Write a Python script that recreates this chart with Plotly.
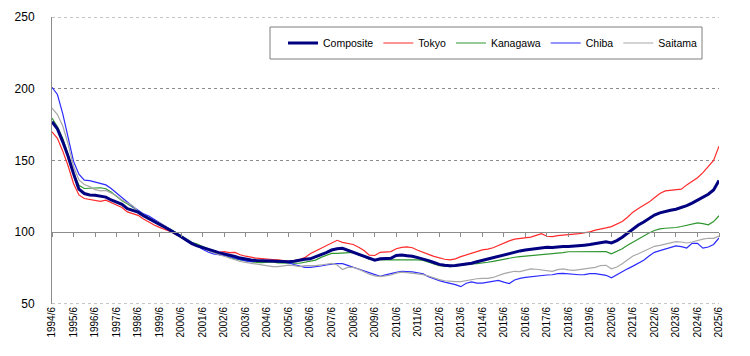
import pandas as pd
import plotly.graph_objects as go

# Quarterly sampling dates, 1994/6 .. 2025/6
dates = pd.date_range("1994-06-01", "2025-06-01", freq="3MS")

tick_dates = pd.date_range("1994-06-01", "2025-06-01", freq="12MS")
tick_labels = [f"{d.year}/{d.month}" for d in tick_dates]
y_ticks = [50, 100, 150, 200, 250]

composite = [
    177, 172, 163, 153, 141, 130, 127, 126, 125.8, 125.3,
    124.5, 122.5, 120.8, 119.5, 116.5, 115.5, 114, 111.5, 109.3, 107.5,
    105.5, 103.5, 101.5, 99.5, 96.9, 94.5, 92, 90.5, 89.5, 88.2,
    87, 85.8, 85, 84.3, 83.2, 82, 81.2, 80.7, 80.4, 80.2,
    80, 79.8, 79.6, 79.5, 79.5, 79.8, 80.6, 81.2, 81.5, 82.8,
    84.1, 85.8, 87.6, 88.5, 88.8, 87.5, 86, 84.8, 83.5, 82.2,
    80.5, 81.5, 81.8, 81.8, 83.8, 84.1, 83.7, 83.3, 82.3, 81.4,
    80.2, 78.9, 77.6, 77, 76.6, 76.8, 77.2, 77.8, 78.4, 79.4,
    80.4, 81.2, 82.2, 83.4, 84.4, 85.4, 86.4, 87, 87.6, 88.2,
    88.8, 89.5, 89.6, 89.4, 89.9, 90, 90, 90.2, 90.5, 91,
    91.4, 92, 92.8, 93.3, 92.6, 94.2, 96.5, 99.5, 102.5, 105,
    107.2, 109.5, 112, 113.5, 114.6, 115.3, 116, 117, 118.5, 120.3,
    122.2, 124.3, 126.5, 129.5, 136,
]

tokyo = [
    170, 165.5, 156.5, 146.3, 134, 126, 123.5, 123, 122.3, 121.5,
    122.3, 120.5, 118.8, 117.3, 114.2, 113, 111.8, 109.3, 107, 105,
    103.4, 102, 100.5, 98.5, 96.6, 94, 92, 90.7, 89.5, 88.2,
    87, 86, 86.5, 85.8, 86, 84.3, 83.3, 82.5, 81.9, 81.6,
    81.1, 81, 80.7, 80.2, 79.7, 80.3, 81, 82.3, 85, 87,
    88.8, 90.7, 92.5, 94.4, 93, 92.3, 91.5, 89.6, 87.3, 84,
    83.8, 86, 86, 86.5, 88.5, 89.5, 89.8, 89.2, 87.5, 85.8,
    84.6, 83.2, 82.2, 81.2, 80.8, 81.5, 83, 84.2, 85.3, 86.5,
    87.7, 88.3, 89.2, 90.8, 92.5, 94, 95.2, 95.8, 96, 96.6,
    97.8, 99, 97.2, 96.9, 97.6, 98.1, 98.5, 98.7, 99, 99.4,
    100.3, 101.5, 102.5, 103, 103.9, 105.5, 107.5, 110.5, 114, 116.5,
    118.5, 121, 124, 127, 128.8, 129.3, 129.4, 130, 133, 135.5,
    138, 141.5, 145.5, 150, 160,
]

kanagawa = [
    179.5, 173.5, 165.3, 154.3, 141, 132.7, 130.5, 130.6, 130.7, 131,
    130.3, 128, 125, 122, 119.8, 117.5, 115, 112.6, 110.3, 107.8,
    105.4, 104, 102.3, 100, 97.8, 95.4, 93, 91.8, 90.4, 88.5,
    86.8, 85.6, 84.5, 82.3, 81.3, 80.7, 80.2, 79.5, 79, 78.8,
    79.2, 79.3, 78.6, 78.4, 78.4, 78.4, 78.4, 79, 80, 80.6,
    82.5, 84, 85.3, 85.3, 85.5, 86.2, 86, 84.2, 83, 81,
    80.7, 80.7, 80.7, 80.7, 81.2, 81.1, 81, 80.9, 80.7, 80.4,
    79.2, 77.8, 76.7, 76.3, 76, 76.6, 77.2, 77.5, 77.9, 78.2,
    78.5, 79.1, 79.7, 80.5, 81.2, 81.8, 82.6, 83, 83.3, 83.6,
    84, 84.5, 85, 85.3, 85.3, 85.8, 86.4, 86.4, 86.4, 86.6,
    86.9, 86.9, 86.9, 86.5, 85, 86.5, 88.5, 91, 93.2, 95.3,
    97.5, 99.5, 101.2, 102.4, 102.8, 102.8, 103.3, 104, 104.7, 105.5,
    106.5, 106, 105.2, 107.4, 111.5,
]

chiba = [
    201, 196, 182.5, 167, 149.5, 140.5, 136.3, 136, 135, 133.8,
    133, 130.5, 127.3, 123.7, 121, 118, 115.4, 112.8, 111.3, 109,
    106.8, 104.8, 102.5, 100, 97.5, 95, 92.8, 90.4, 88.2, 86.2,
    84.9, 84.3, 83.8, 83.2, 82, 80.8, 80.1, 79.5, 79.8, 80.2,
    80.4, 80.5, 79.8, 79.3, 78.7, 77.5, 76.4, 75.5, 75.5, 75.8,
    76.5, 77.2, 77.9, 78.2, 78.1, 76.8, 75.6, 74.3, 73, 71.8,
    70.5, 69.3, 70.3, 71.4, 72, 72.8, 72.8, 72.4, 71.8, 71,
    69, 67.5, 66.3, 65.2, 64.6, 63.5, 62.1, 64.5, 65.4, 64.6,
    64.6, 65.3, 65.6, 66.4, 65.2, 64.2, 66.7, 67.9, 68.5, 69,
    69.6, 70.2, 70.2, 70.4, 71.2, 71.4, 71, 70.7, 70.4, 70.5,
    71.2, 71.2, 70.5, 70, 68.2, 70.5, 72.5, 74.5, 76.4, 78.3,
    80.5, 83.5, 86, 87.2, 88.3, 89.6, 90.5, 90, 89, 92.3,
    92.3, 88.9, 89.7, 91.5, 96,
]

saitama = [
    186.5, 182, 174, 161.5, 146, 136.5, 133.3, 131.8, 129.7, 128.8,
    129.2, 127.6, 125.5, 122.5, 120.2, 118.5, 114.6, 112, 109.6, 108.2,
    106.6, 104.2, 101.6, 99.7, 96.6, 94, 92, 90.6, 89.3, 87.3,
    85.7, 84.4, 83.3, 82.1, 80.8, 79.6, 79, 78.4, 77.7, 77.1,
    76.4, 76, 76, 76.6, 77.1, 76.8, 76.1, 76.7, 76.5, 76.8,
    77.2, 77.8, 78.3, 77.2, 74, 75.5, 75.6, 74.3, 72.6, 70.7,
    69.6, 69.1, 69.6, 70.2, 71.5, 72.2, 71.8, 71.4, 71.2, 70.5,
    69.5, 68.2, 67, 66.2, 65.7, 65.6, 65.6, 66.4, 67.2, 67.6,
    67.9, 67.9, 68.5, 70, 71.2, 72, 72.8, 72.6, 73.5, 74.5,
    74.2, 73.7, 73.6, 72.8, 74, 74.5, 73.8, 73.4, 74, 74.5,
    74.9, 75.5, 76.8, 77, 74.5, 75.8, 78, 80.5, 83.4, 85,
    86.6, 88.6, 90.2, 90.9, 91.8, 93, 93.4, 93.2, 92.5, 93.2,
    94.4, 95.2, 95.8, 95.8, 97.4,
]

series_names = ["Composite", "Tokyo", "Kanagawa", "Chiba", "Saitama"]
series_values = [composite, tokyo, kanagawa, chiba, saitama]
series_colors = ["#000080", "#FF2A2A", "#2E962E", "#2B2BFF", "#A8A8A8"]
series_widths = [3, 1.2, 1.2, 1.2, 1.2]

fig = go.Figure()
for name, vals, col, w in zip(series_names, series_values, series_colors, series_widths):
    fig.add_trace(go.Scatter(
        x=dates, y=vals, name=name, mode="lines",
        line=dict(color=col, width=w),
        xaxis="x2" if name == "Composite" else "x",
    ))

FONT = "Liberation Sans"
GRID = "#8C8C8C"

# dotted gridlines at the range edges (plotly hides edge gridlines)
edge_grid = [
    dict(type="line", xref="paper", yref="y", x0=0, x1=1, y0=v, y1=v,
         line=dict(color=GRID, width=1, dash="dot"), layer="below")
    for v in (y_ticks[0], y_ticks[-1])
]

legend_box = dict(
    type="rect", xref="paper", yref="paper",
    x0=(270 - 52) / 667, x1=(702 - 52) / 667,
    y0=(304 - 59) / 287, y1=(304 - 27) / 287,
    line=dict(color="#7F7F7F", width=1), fillcolor="white", layer="below",
)

fig.update_layout(
    width=750, height=356,
    margin=dict(l=52, r=31, t=17, b=52, autoexpand=False),
    paper_bgcolor="white", plot_bgcolor="white",
    font=dict(family=FONT, size=11, color="#000000"),
    showlegend=True,
    legend=dict(
        orientation="h", x=(283 - 52) / 667, y=(304 - 43) / 287,
        xanchor="left", yanchor="middle",
        bgcolor="rgba(0,0,0,0)", borderwidth=0,
        font=dict(family=FONT, size=10.5, color="#000000"),
        itemwidth=30, traceorder="normal",
    ),
    xaxis=dict(
        type="date", range=[dates[0], dates[-1]],
        tickmode="array", tickvals=tick_dates, ticktext=tick_labels,
        tickangle=-90, tickfont=dict(family=FONT, size=10, color="#000000"),
        showgrid=False, zeroline=False, showline=False, ticks="",
        automargin=False,
    ),
    xaxis2=dict(
        type="date", matches="x", overlaying="x", anchor="free",
        position=0.25, side="bottom",
        tickmode="array", tickvals=tick_dates,
        showticklabels=False, showgrid=False, zeroline=False,
        showline=True, linecolor=GRID, linewidth=1,
        ticks="outside", ticklen=4, tickcolor=GRID, tickwidth=1,
    ),
    yaxis=dict(
        range=[y_ticks[0], y_ticks[-1]], tickmode="array", tickvals=y_ticks,
        showgrid=True, gridcolor=GRID, griddash="dot", gridwidth=1,
        zeroline=False, showline=True, linecolor=GRID, linewidth=1,
        ticks="", ticklabelstandoff=14, automargin=False,
        tickfont=dict(family=FONT, size=12, color="#000000"),
    ),
    shapes=edge_grid + [legend_box],
)

fig.write_html("out.html", config={"displayModeBar": False},
               post_script="document.body.style.margin='0';")
